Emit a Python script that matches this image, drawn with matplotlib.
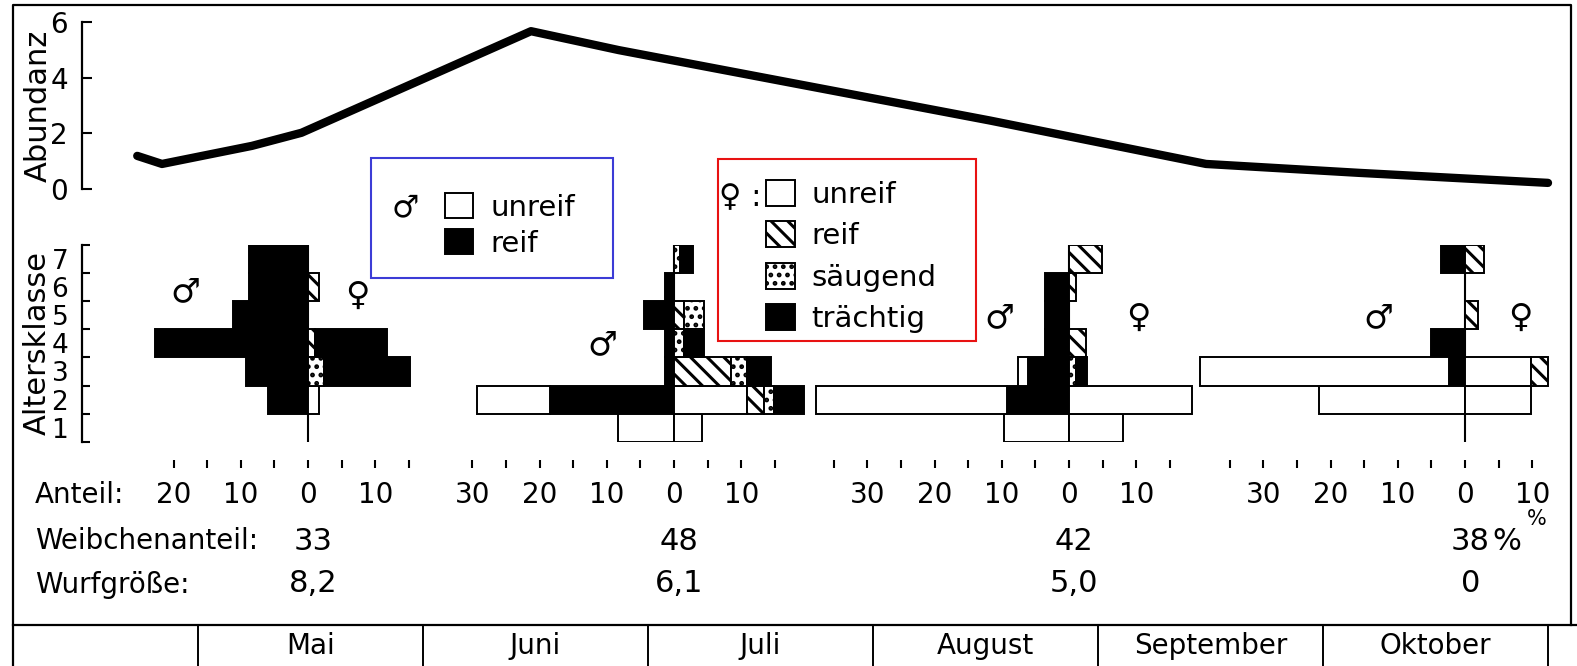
import numpy as np
import matplotlib.pyplot as plt
from matplotlib.patches import Patch, Rectangle
from matplotlib.transforms import blended_transform_factory

plt.rcParams['font.family'] = 'DejaVu Sans'
plt.rcParams['hatch.linewidth'] = 2.2

# Abundanz over the season (x = months after 1 May)
abund_monat = [-0.27, -0.16, 0.24, 0.46, 1.48, 1.87, 3.52, 4.48, 5.16, 6.0]
abund_wert = [1.19, 0.90, 1.55, 2.02, 5.67, 4.99, 2.46, 0.90, 0.58, 0.22]

monate = ['Mai', 'Juni', 'Juli', 'August', 'September', 'Oktober']
altersklassen = [1, 2, 3, 4, 5, 6, 7]

# Anteil in % for age classes 1..7
mai_m_reif = [0, 5.9, 9.2, 22.8, 11.1, 8.8, 8.8]
mai_m_unreif = [0, 0, 0, 0, 0, 0, 0]
mai_w_unreif = [0, 1.6, 0, 0, 0, 0, 0]
mai_w_reif = [0, 0, 0, 1.1, 0, 1.6, 0]
mai_w_saeugend = [0, 0, 2.4, 0, 0, 0, 0]
mai_w_traechtig = [0, 0, 12.8, 10.7, 0, 0, 0]

jul_m_reif = [0, 18.4, 1.4, 1.4, 4.4, 1.4, 0]
jul_m_unreif = [8.3, 10.9, 0, 0, 0, 0, 0]
jul_w_unreif = [4.1, 10.9, 0, 0, 0, 0, 0]
jul_w_reif = [0, 2.5, 8.5, 0, 1.5, 0, 0]
jul_w_saeugend = [0, 1.5, 2.4, 1.5, 2.9, 0, 0.9]
jul_w_traechtig = [0, 4.4, 3.5, 2.9, 0, 0, 2.0]

aug_m_reif = [0, 9.3, 6.1, 3.6, 3.6, 3.6, 0]
aug_m_unreif = [9.6, 28.4, 1.5, 0, 0, 0, 0]
aug_w_unreif = [8.1, 18.3, 0, 0, 0, 0, 0]
aug_w_reif = [0, 0, 0, 2.6, 0, 1.0, 4.9]
aug_w_saeugend = [0, 0, 1.0, 0, 0, 0, 0]
aug_w_traechtig = [0, 0, 1.7, 0, 0, 0, 0]

okt_m_reif = [0, 0, 2.4, 5.1, 0, 0, 3.6]
okt_m_unreif = [0, 21.8, 37.0, 0, 0, 0, 0]
okt_w_unreif = [0, 9.8, 9.8, 0, 0, 0, 0]
okt_w_reif = [0, 0, 2.5, 0, 1.9, 0, 2.8]
okt_w_saeugend = [0, 0, 0, 0, 0, 0, 0]
okt_w_traechtig = [0, 0, 0, 0, 0, 0, 0]

weibchenanteil = ['33', '48', '42', '38']
wurfgroesse = ['8,2', '6,1', '5,0', '0']

# page layout in pixels
W, H = 1577, 666
X_MAI = 198        # 1 May
PX_MONAT = 225.0   # one month
PX_PROZ = 6.72     # one percent in the pyramids
ROW_TOP, ROW_BOT = 244.5, 442


def fx(px):
    return px / W


def fy(py):
    return 1 - py / H


def monat(px):
    return (px - X_MAI) / PX_MONAT


STIL = {
    'unreif': dict(facecolor='white', edgecolor='black', linewidth=1.4),
    'reif_m': dict(facecolor='black', edgecolor='black', linewidth=1.4),
    'reif_w': dict(facecolor='white', edgecolor='black', linewidth=1.4, hatch='\\\\'),
    'saeugend': dict(facecolor='white', edgecolor='black', linewidth=1.4, hatch='..'),
    'traechtig': dict(facecolor='black', edgecolor='black', linewidth=1.4),
}

fig = plt.figure(figsize=(W / 100, H / 100), dpi=100)

# outer frame and legend boxes
bg = fig.add_axes([0, 0, 1, 1], zorder=-1)
bg.set_xlim(0, W)
bg.set_ylim(H, 0)
bg.axis('off')
bg.plot([13, 13, 1571, 1571], [H, 5, 5, 625], color='black', lw=1.6)
bg.add_patch(Rectangle((371, 158), 242, 120, fill=False, ec='#3c3cd6', lw=1.5))
bg.add_patch(Rectangle((718, 159), 258, 182, fill=False, ec='#e81212', lw=1.5))

# month strip
am = fig.add_axes([fx(13), 0, fx(W) - fx(13), fy(625)])
am.set_xlim(monat(13), monat(W))
am.set_ylim(0, 1)
for s in ['left', 'right', 'bottom']:
    am.spines[s].set_visible(False)
am.spines['top'].set_linewidth(1.6)
am.set_xticks([])
am.set_yticks([])
am.patch.set_visible(False)
am.vlines(np.arange(len(monate) + 1), 0, 1, color='black', lw=1.4)
for i, name in enumerate(monate):
    am.text(i + 0.5, 0.5, name, ha='center', va='center', fontsize=20)

# abundance curve
aa = fig.add_axes([fx(82), fy(189), fx(W) - fx(82), fy(22) - fy(189)])
aa.set_xlim(monat(82), monat(W))
aa.set_ylim(0, 6)
aa.plot(abund_monat, abund_wert, color='black', lw=6,
        solid_capstyle='round', clip_on=False)
for s in ['top', 'right', 'bottom']:
    aa.spines[s].set_visible(False)
aa.spines['left'].set_linewidth(1.6)
aa.set_xticks([])
aa.set_yticks([0, 2, 4, 6])
aa.tick_params(axis='y', direction='in', length=7, width=1.5, pad=10, labelsize=20)
aa.set_ylabel('Abundanz', fontsize=22)
aa.yaxis.set_label_coords((38 - 82) / (W - 82), 0.5)
aa.yaxis.label.set_va('center')
aa.patch.set_visible(False)

gruppen = [
    dict(zentrum=308, xlim=(-33.6, 16.5), ticks=np.arange(-20, 20, 5),
         maennl=[(mai_m_reif, 'reif_m'), (mai_m_unreif, 'unreif')],
         weibl=[(mai_w_unreif, 'unreif'), (mai_w_reif, 'reif_w'),
                (mai_w_saeugend, 'saeugend'), (mai_w_traechtig, 'traechtig')],
         symbole=[(-18.3, 5.82, '♂'), (7.3, 5.71, '♀')]),
    dict(zentrum=674, xlim=(-32, 20), ticks=np.arange(-30, 20, 5),
         maennl=[(jul_m_reif, 'reif_m'), (jul_m_unreif, 'unreif')],
         weibl=[(jul_w_unreif, 'unreif'), (jul_w_reif, 'reif_w'),
                (jul_w_saeugend, 'saeugend'), (jul_w_traechtig, 'traechtig')],
         symbole=[(-10.6, 3.94, '♂')]),
    dict(zentrum=1069, xlim=(-38.5, 18.5), ticks=np.arange(-35, 20, 5),
         maennl=[(aug_m_reif, 'reif_m'), (aug_m_unreif, 'unreif')],
         weibl=[(aug_w_unreif, 'unreif'), (aug_w_reif, 'reif_w'),
                (aug_w_saeugend, 'saeugend'), (aug_w_traechtig, 'traechtig')],
         symbole=[(-10.3, 4.9, '♂'), (10.3, 4.9, '♀')]),
    dict(zentrum=1465, xlim=(-40, 13), ticks=np.arange(-35, 15, 5),
         maennl=[(okt_m_reif, 'reif_m'), (okt_m_unreif, 'unreif')],
         weibl=[(okt_w_unreif, 'unreif'), (okt_w_reif, 'reif_w'),
                (okt_w_saeugend, 'saeugend'), (okt_w_traechtig, 'traechtig')],
         symbole=[(-12.9, 4.9, '♂'), (8.2, 4.9, '♀')]),
]

y = np.array(altersklassen)
for k, g in enumerate(gruppen):
    a, b = g['xlim']
    left_px = g['zentrum'] + a * PX_PROZ
    ax = fig.add_axes([fx(left_px), fy(ROW_BOT), (b - a) * PX_PROZ / W,
                       fy(ROW_TOP) - fy(ROW_BOT)])
    ax.set_xlim(a, b)
    ax.set_ylim(0.5, 7.5)
    ax.patch.set_visible(False)

    ax.vlines(0, 0.5, 7.5, color='black', lw=1.5, zorder=0.5)
    # males to the left, females to the right, stacked outwards
    for reihen, vorz in [(g['maennl'], -1), (g['weibl'], 1)]:
        basis = np.zeros(len(y))
        for werte, stil in reihen:
            v = np.array(werte, dtype=float)
            sel = v > 0
            ax.barh(y[sel], vorz * v[sel], left=vorz * basis[sel], height=1.0,
                    **STIL[stil])
            basis += v
    for sx, sy, sym in g['symbole']:
        ax.text(sx, sy, sym, fontsize=24, ha='center', va='center')

    for s in ['top', 'right', 'left']:
        ax.spines[s].set_visible(False)
    ax.spines['bottom'].set_visible(False)
    ax.spines['bottom'].set_position(('outward', 26 * 0.72))
    ax.set_xticks(g['ticks'],
                  labels=[str(abs(t)) if t % 10 == 0 else '' for t in g['ticks']])
    ax.tick_params(axis='x', direction='in', length=5.8, width=1.5, pad=9.5,
                   labelsize=20)

    if k == 0:
        ax.spines['left'].set_visible(True)
        ax.spines['left'].set_linewidth(1.6)
        ax.set_yticks(np.arange(0.5, 8, 1.0), labels=[])
        ax.set_yticks(altersklassen, labels=[str(c) for c in altersklassen], minor=True)
        ax.tick_params(axis='y', which='major', direction='in', length=6, width=1.5)
        ax.tick_params(axis='y', which='minor', length=0, pad=10, labelsize=19)
        ax.set_ylabel('Altersklasse', fontsize=22)
        ax.yaxis.set_label_coords((37 - left_px) / ((b - a) * PX_PROZ), 0.5)
        ax.yaxis.label.set_va('center')
    else:
        ax.set_yticks([])

    trans = blended_transform_factory(ax.transData, fig.transFigure)
    ax.text(0.8, fy(541), weibchenanteil[k], fontsize=22, ha='center', va='center',
            transform=trans)
    ax.text(0.8, fy(584), wurfgroesse[k], fontsize=22, ha='center', va='center',
            transform=trans)
    if k == len(gruppen) - 1:
        ax.text(4.0, fy(541), '%', fontsize=22, ha='left', va='center', transform=trans)
        ax.text(10.7, fy(519), '%', fontsize=15, ha='center', va='center',
                transform=trans)

fig.text(fx(35), fy(495), 'Anteil:', fontsize=20, ha='left', va='center')
fig.text(fx(35), fy(541), 'Weibchenanteil:', fontsize=20, ha='left', va='center')
fig.text(fx(35), fy(585), 'Wurfgröße:', fontsize=20, ha='left', va='center')

# legends
fig.legend(handles=[Patch(**STIL['unreif']), Patch(**STIL['reif_m'])],
           labels=['unreif', 'reif'], loc='upper left',
           bbox_to_anchor=(fx(445), fy(193)), frameon=False, fontsize=21,
           handlelength=0.95, handleheight=0.95, handletextpad=0.6,
           labelspacing=0.25, borderpad=0, borderaxespad=0)
fig.text(fx(405), fy(208), '♂', fontsize=22, ha='center', va='center')

fig.legend(handles=[Patch(**STIL['unreif']), Patch(**STIL['reif_w']),
                    Patch(**STIL['saeugend']), Patch(**STIL['traechtig'])],
           labels=['unreif', 'reif', 'säugend', 'trächtig'], loc='upper left',
           bbox_to_anchor=(fx(766), fy(180)), frameon=False, fontsize=21,
           handlelength=1.0, handleheight=1.0, handletextpad=0.55,
           labelspacing=0.42, borderpad=0, borderaxespad=0)
fig.text(fx(719), fy(198), '♀ :', fontsize=22, ha='left', va='center')

fig.savefig('out.png', dpi=100)
